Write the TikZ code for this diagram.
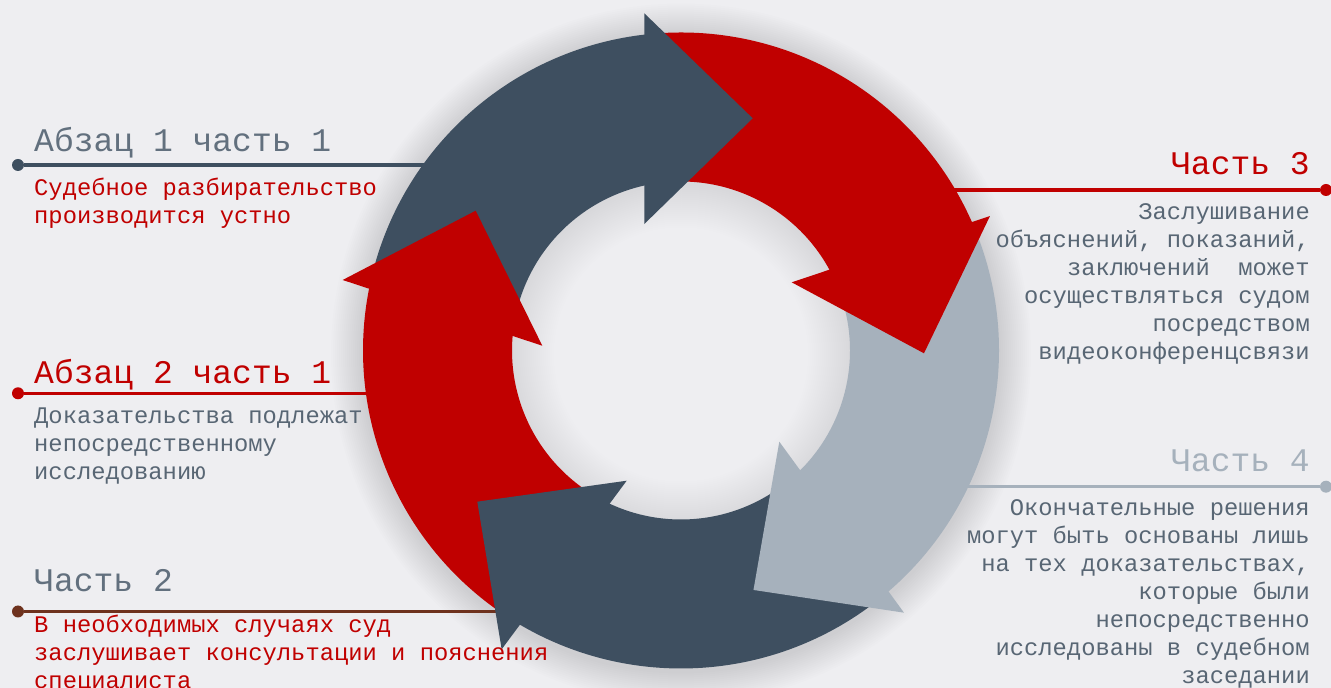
\documentclass[tikz,border=0pt]{standalone}
\usepackage{fontspec}
\setmainfont{Liberation Mono}
\usetikzlibrary{calc}
\definecolor{bg}{RGB}{238,238,241}
\definecolor{slate}{RGB}{62,79,96}
\definecolor{crimson}{RGB}{192,0,0}
\definecolor{steel}{RGB}{166,177,188}
\definecolor{lineBrown}{RGB}{110,50,30}
\definecolor{headgray}{RGB}{98,112,126}
\definecolor{txtgray}{RGB}{88,102,116}
\definecolor{shadowink}{RGB}{40,40,60}
\begin{document}
\begin{tikzpicture}[x=1pt,y=1pt,
  enddot/.style={circle, fill=#1, draw=none, inner sep=0pt, minimum size=12pt},
  leader/.style={line width=3.3pt, draw=#1},
  headL/.style={anchor=base west, inner sep=0pt, font=\fontsize{33}{38}\selectfont},
  headR/.style={anchor=base east, inner sep=0pt, font=\fontsize{33}{38}\selectfont},
  bodyL/.style={anchor=base west, inner sep=0pt, align=left, font=\fontsize{23.8}{28}\selectfont},
  bodyR/.style={anchor=base east, inner sep=0pt, align=right, font=\fontsize{23.8}{28}\selectfont}]
\useasboundingbox (0,0) rectangle (1331,688);
\fill[bg] (0,0) rectangle (1331,688);
\coordinate (C) at (681,337.5);
% soft shadow around the ring and inside the hole
\foreach \i in {1,...,16}{
  \fill[shadowink, opacity=0.0065, even odd rule] ($(C)+(0,-3)$) circle[radius=318+2*\i] (C) circle[radius=250];
}
\foreach \i in {1,...,22}{
  \fill[shadowink, opacity=0.0055, even odd rule] (C) circle[radius=171] ($(C)+(0,-4)$) circle[radius=171-2*\i];
}
% leader lines
\node[enddot=slate] (d1) at (18,523) {};
\coordinate (e1) at (435,523);
\draw[leader=slate, line width=3.6pt] (d1) -- (e1);
\node[enddot=crimson] (d2) at (18,294.7) {};
\coordinate (e2) at (380,294.7);
\draw[leader=crimson] (d2) -- (e2);
\node[enddot=lineBrown] (d3) at (18,76.5) {};
\coordinate (e3) at (510,76.5);
\draw[leader=lineBrown] (d3) -- (e3);
\node[enddot=crimson] (d4) at (1326,498) {};
\coordinate (e4) at (945,498);
\draw[leader=crimson] (d4) -- (e4);
\node[enddot=steel] (d5) at (1326,201.3) {};
\coordinate (e5) at (958,201.3);
\draw[leader=steel] (d5) -- (e5);
% ring bands
\fill[slate] ($(C)+(165.5:318)$) arc[start angle=165.5, end angle=95.5, radius=318] -- ($(C)+(95.5:169)$) arc[start angle=95.5, end angle=165.5, radius=169] -- cycle;
\fill[crimson] ($(C)+(94:318)$) arc[start angle=94, end angle=22.8, radius=318] -- ($(C)+(22.8:169)$) arc[start angle=22.8, end angle=94, radius=169] -- cycle;
\fill[steel] ($(C)+(21.5:318)$) arc[start angle=21.5, end angle=-50.3, radius=318] -- ($(C)+(-50.3:169)$) arc[start angle=-50.3, end angle=21.5, radius=169] -- cycle;
\fill[slate] ($(C)+(-52.8:318)$) arc[start angle=-52.8, end angle=-121.5, radius=318] -- ($(C)+(-121.5:169)$) arc[start angle=-121.5, end angle=-52.8, radius=169] -- cycle;
\fill[crimson] ($(C)+(-124.5:318)$) arc[start angle=-124.5, end angle=-192.5, radius=318] -- ($(C)+(-192.5:169)$) arc[start angle=-192.5, end angle=-124.5, radius=169] -- cycle;
% arrow heads
\fill[slate] ($(C)+(96.21:339.2)$) -- ($(C)+(72.84:243)$) -- ($(C)+(106.18:131.7)$) -- cycle;
\fill[crimson] ($(C)+(23.52:337)$) -- ($(C)+(-0.66:243)$) -- ($(C)+(31.64:130)$) -- cycle;
\fill[steel] ($(C)+(-49.62:344.2)$) -- ($(C)+(-73.16:250.2)$) -- ($(C)+(-42.85:134.1)$) -- cycle;
\fill[slate] ($(C)+(-120.97:348.5)$) -- ($(C)+(-143.42:253.7)$) -- ($(C)+(-112.64:141.1)$) -- cycle;
\fill[crimson] ($(C)+(168.23:345.6)$) -- ($(C)+(145.75:248.4)$) -- ($(C)+(178.02:138.8)$) -- cycle;
% texts left (multi-line nodes are anchored at the baseline of their last line)
\node[headL, text=headgray] (h1) at (34,536.5) {Абзац 1 часть 1};
\node[bodyL, text=crimson] (b1) at (34,464.5) {Судебное разбирательство\\производится устно};
\node[headL, text=crimson] (h2) at (34,304.7) {Абзац 2 часть 1};
\node[bodyL, text=txtgray] (b2) at (34,208.7) {Доказательства подлежат\\непосредственному\\исследованию};
\node[headL, text=headgray] (h3) at (34,96.5) {Часть 2};
\node[bodyL, text=crimson] (b3) at (34,-0.5) {В необходимых случаях суд\\заслушивает консультации и пояснения\\специалиста};
% texts right
\node[headR, text=crimson] (h4) at (1310,513) {Часть 3};
\node[bodyR, text=txtgray] (b4) at (1310,328.2) {Заслушивание\\объяснений, показаний,\\заключений~~может\\осуществляться судом\\посредством\\видеоконференцсвязи};
\node[headR, text=steel] (h5) at (1310,216.3) {Часть 4};
\node[bodyR, text=txtgray] (b5) at (1310,4) {Окончательные решения\\могут быть основаны лишь\\на тех доказательствах,\\которые были\\непосредственно\\исследованы в судебном\\заседании};
\end{tikzpicture}
\end{document}
